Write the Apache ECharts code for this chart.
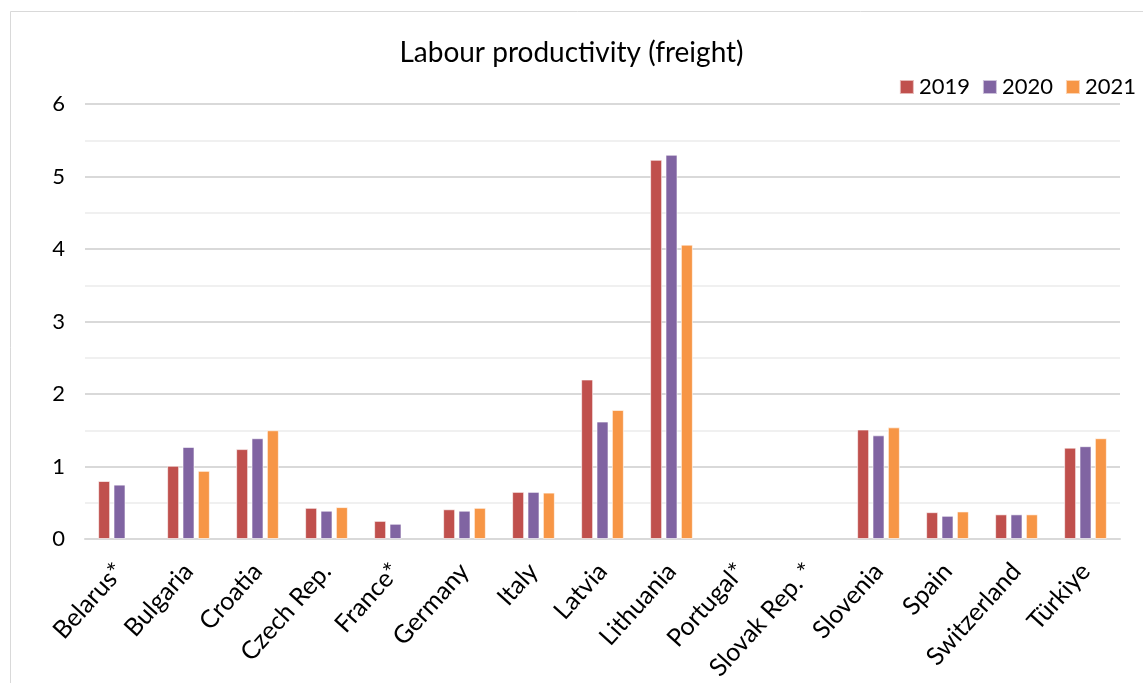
<!DOCTYPE html>
<html>
<head>
<meta charset="utf-8">
<script src="https://cdn.jsdelivr.net/npm/echarts@6/dist/echarts.min.js"></script>
<style>
  html, body { margin: 0; padding: 0; background: #fff; }
  #main { width: 1143px; height: 683px; }
</style>
</head>
<body>
<div id="main"></div>
<script>
// categories and values
var countries = ['Belarus*', 'Bulgaria', 'Croatia', 'Czech Rep.', 'France*', 'Germany', 'Italy',
  'Latvia', 'Lithuania', 'Portugal*', 'Slovak Rep. *', 'Slovenia', 'Spain', 'Switzerland', 'Türkiye'];
var years = ['2019', '2020', '2021'];
var v2019 = [0.80, 1.01, 1.24, 0.43, 0.25, 0.41, 0.65, 2.20, 5.23, null, null, 1.51, 0.37, 0.34, 1.26];
var v2020 = [0.75, 1.27, 1.39, 0.39, 0.21, 0.39, 0.65, 1.62, 5.30, null, null, 1.43, 0.32, 0.34, 1.28];
var v2021 = [null, 0.94, 1.50, 0.44, null, 0.43, 0.64, 1.78, 4.06, null, null, 1.54, 0.38, 0.34, 1.39];
var colors = ['#C0504D', '#8064A2', '#F79646'];

var font = 'Lato, "Open Sans", sans-serif';
var chart = echarts.init(document.getElementById('main'));

function makeSeries(name, data, i) {
  return {
    name: name,
    type: 'bar',
    data: data,
    barWidth: 12,
    barGap: '28%',
    itemStyle: {
      color: colors[i],
      borderColor: 'rgba(255,255,255,0.6)',
      borderWidth: 1
    }
  };
}

var option = {
  animation: false,
  backgroundColor: '#fff',
  color: colors,
  title: {
    text: 'Labour productivity (freight)',
    left: 'center',
    top: 34,
    textStyle: { fontFamily: font, fontSize: 28, fontWeight: 'normal', color: '#000' }
  },
  legend: {
    data: years,
    right: 2,
    top: 71,
    itemWidth: 14,
    itemHeight: 14,
    itemGap: 12,
    icon: 'rect',
    textStyle: { fontFamily: font, fontSize: 22, color: '#000' }
  },
  graphic: [{
    type: 'rect',
    shape: { x: 10.5, y: 11.5, width: 1160, height: 700 },
    style: { fill: 'none', stroke: '#d9d9d9', lineWidth: 1 },
    silent: true
  }],
  grid: { left: 85, right: 23, top: 104, bottom: 144, outerBoundsMode: 'none', containLabel: false },
  xAxis: {
    type: 'category',
    data: countries,
    axisTick: { show: false },
    axisLine: { lineStyle: { color: '#d9d9d9', width: 2 } },
    axisLabel: {
      rotate: 48,
      interval: 0,
      margin: 28,
      fontFamily: font,
      fontSize: 25,
      color: '#000'
    }
  },
  yAxis: {
    type: 'value',
    min: 0,
    max: 6,
    interval: 1,
    axisLine: { show: false },
    axisTick: { show: false },
    axisLabel: { fontFamily: font, fontSize: 22, color: '#000', margin: 20 },
    splitLine: { lineStyle: { color: '#d9d9d9', width: 2 } },
    minorTick: { show: false, splitNumber: 2 },
    minorSplitLine: { show: true, lineStyle: { color: '#f0f0f0', width: 2 } }
  },
  series: [
    makeSeries(years[0], v2019, 0),
    makeSeries(years[1], v2020, 1),
    makeSeries(years[2], v2021, 2)
  ]
};

chart.setOption(option);
</script>
</body>
</html>
